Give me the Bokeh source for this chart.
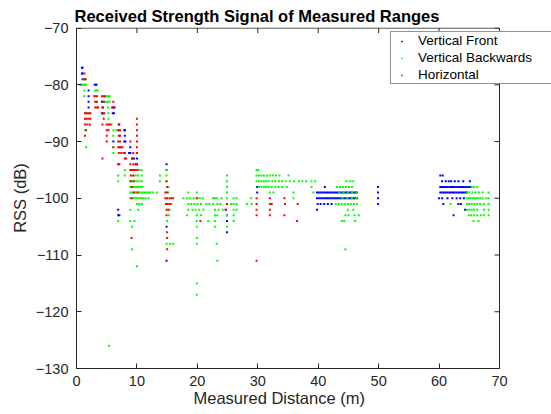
import numpy as np
from bokeh.plotting import figure
from bokeh.models import (Range1d, Title, Legend, LegendItem, FixedTicker,
                          ColumnDataSource)
from bokeh.embed import file_html
from bokeh.resources import INLINE

# RSS readings grouped by level (dB); each level lists the measured distances (m)
front_rss = [-77, -78, -79, -80, -81, -82, -83, -84, -85, -87, -88, -89, -90,
             -91, -92, -93, -94, -95, -96, -97, -98, -99, -100, -101, -102,
             -103, -104, -105, -106, -111]
front_dist = [
    [0.9, 1.0],
    [0.9, 1.0],
    [1.0],
    [3.0, 3.2, 3.3],
    [2.0],
    [2.0],
    [2.0, 4.2, 4.4],
    [2.0, 4.3, 6.0, 6.3],
    [4.2, 4.4, 6.0, 6.2],
    [7.0],
    [7.9, 8.0],
    [8.0],
    [6.1, 7.9, 8.1],
    [7.3, 8.9],
    [8.7, 8.9, 10.0],
    [9.2, 9.5, 10.0],
    [9.8, 10.0, 14.9],
    [14.9],
    [60.2, 60.6],
    [60.5, 61.1, 61.6, 62.0, 62.6, 63.2, 64.0, 65.1],
    [29.9, 41.1, 49.9, 60.2, 60.5, 60.8, 61.1, 61.4, 61.7, 62.0, 62.3, 62.6,
     62.9, 63.2, 63.5, 63.8, 64.1, 64.4, 64.7, 65.0, 65.2],
    [29.9, 39.8, 40.1, 40.4, 40.7, 41.0, 41.3, 41.6, 41.9, 42.2, 42.5, 42.8,
     43.1, 43.4, 43.7, 44.0, 44.3, 44.6, 44.9, 45.2, 45.5, 45.8, 46.1, 46.4,
     49.9, 60.2, 60.5, 60.8, 61.1, 61.4, 61.7, 62.0, 62.3, 62.6, 62.9, 63.2,
     63.5, 63.8, 64.1, 64.4, 64.6],
    [39.8, 40.1, 40.4, 40.7, 41.0, 41.3, 41.6, 41.9, 42.2, 42.5, 42.8, 43.1,
     43.4, 43.7, 44.0, 44.3, 44.6, 44.9, 45.2, 45.5, 45.8, 46.1, 46.4, 49.9,
     60.0, 60.5, 61.4, 62.2, 62.9, 63.5, 64.1],
    [39.9, 40.4, 41.0, 41.6, 42.2, 49.9, 60.7, 63.2, 63.6],
    [6.9, 24.7, 39.8, 64.3],
    [6.9, 7.1, 24.9, 62.4],
    [24.9],
    [14.9],
    [24.9],
    [14.9],
]

back_rss = [-79, -80, -81, -82, -83, -84, -85, -86, -87, -88, -89, -91, -92,
            -94, -95, -96, -97, -98, -99, -100, -101, -102, -103, -104, -105,
            -107, -108, -109, -111, -112, -115, -117, -126]
back_dist = [
    [1.2, 1.5],
    [0.6, 0.8, 1.0, 1.2, 1.4, 1.6],
    [1.3, 3.1, 3.3, 3.5],
    [1.3, 2.9, 3.2, 5.0, 5.3, 5.5],
    [3.3, 4.5, 5.0, 5.2, 5.5],
    [5.2],
    [1.6, 2.2, 4.4, 5.3],
    [5.3],
    [5.8],
    [1.4, 6.1, 6.6, 7.0],
    [6.1],
    [1.6, 6.1],
    [6.1],
    [6.9],
    [8.0, 10.4, 10.8, 14.9, 29.8, 30.1],
    [6.9, 8.0, 9.4, 9.8, 10.2, 10.8, 13.8, 14.9, 24.9, 29.8, 30.2, 30.6,
     31.0, 31.5, 32.0, 32.5, 33.0, 33.6, 35.1],
    [6.9, 8.9, 9.2, 9.6, 10.0, 10.4, 10.8, 13.8, 14.9, 24.9, 29.8, 30.2,
     30.6, 31.0, 31.4, 31.8, 32.4, 32.9, 33.5, 34.0, 34.6, 35.3, 36.0, 36.8,
     37.4, 38.0, 38.9, 39.5, 44.7, 45.3, 45.8],
    [8.9, 9.1, 9.4, 9.7, 10.0, 10.3, 10.6, 10.9, 15.2, 24.9, 30.2, 30.6,
     31.0, 31.4, 31.8, 32.3, 32.9, 33.4, 34.0, 34.8, 38.9, 43.1, 43.6, 44.1,
     44.6, 45.1, 45.6, 65.4, 65.8, 66.3],
    [8.9, 9.2, 9.5, 9.8, 10.1, 10.4, 10.7, 11.0, 11.3, 11.6, 11.9, 12.2,
     12.6, 13.3, 15.2, 18.5, 19.9, 24.9, 32.0, 32.6, 35.9, 39.2, 43.5, 44.2,
     44.9, 45.6, 46.3, 64.6, 65.0, 65.5, 66.0, 66.6, 67.2, 68.2],
    [8.9, 9.2, 9.5, 9.8, 10.1, 10.4, 10.7, 11.0, 11.4, 11.9, 17.7, 18.3,
     18.8, 19.4, 20.0, 20.4, 20.9, 22.6, 22.9, 23.3, 24.0, 24.9, 26.0, 26.5,
     28.9, 35.9, 44.0, 44.8, 45.6, 46.3, 64.6, 64.9, 65.2, 65.5, 65.8, 66.1,
     66.4, 66.8, 67.2, 67.8, 68.2],
    [10.0, 10.4, 10.8, 15.2, 15.7, 18.5, 19.0, 19.5, 20.0, 20.6, 21.5, 22.0,
     22.6, 23.3, 23.8, 25.6, 26.0, 26.5, 28.2, 29.0, 42.9, 43.4, 43.9, 44.4,
     44.9, 45.4, 45.9, 46.4, 61.9, 64.6, 65.0, 65.4, 65.8, 66.3, 66.8, 67.4,
     68.2],
    [8.9, 10.2, 15.4, 18.5, 19.2, 19.7, 20.3, 21.0, 22.9, 23.5, 24.2, 26.0,
     26.5, 44.9, 45.8, 64.6, 65.0, 65.4, 65.8, 66.3, 67.4, 68.2],
    [15.3, 18.3, 19.9, 20.6, 22.9, 23.3, 24.9, 26.0, 44.5, 45.0, 46.0, 46.7,
     64.9, 65.3, 65.8, 66.3, 66.9, 67.4, 68.2],
    [6.9, 8.9, 9.6, 15.0, 19.9, 21.8, 22.9, 26.0, 43.9, 44.3, 46.1, 65.7,
     66.5],
    [9.2, 19.9, 22.9, 24.9],
    [19.9],
    [14.9, 15.5, 16.0, 19.9, 23.2],
    [9.2, 44.5],
    [23.3],
    [10.0],
    [19.9],
    [19.9],
    [5.4],
]

horiz_rss = [-78, -79, -82, -83, -84, -85, -86, -87, -88, -89, -90, -91, -92,
             -93, -94, -95, -96, -97, -98, -99, -100, -101, -102, -103, -104,
             -106, -107, -109, -111]
horiz_dist = [
    [1.3],
    [1.3, 1.5],
    [3.0, 3.4, 4.2, 4.5, 4.7],
    [3.1, 3.4, 4.6, 6.1],
    [3.1, 3.4, 3.6, 4.4, 5.9, 6.1],
    [1.4, 1.7, 2.0, 2.3, 4.3, 4.6],
    [1.4, 1.7, 2.0, 2.3, 4.5, 10.0],
    [1.4, 1.8, 2.2, 4.3, 5.0, 5.3, 5.6, 7.1, 10.0],
    [1.6, 5.0, 5.3, 6.9, 7.2, 10.0],
    [1.4, 5.0, 7.0, 7.2, 10.0],
    [5.0, 6.9, 7.2, 8.9, 10.0],
    [6.1, 6.9, 7.2, 7.6, 10.0],
    [7.0, 7.4, 7.8, 8.0, 9.4, 10.0],
    [4.3, 8.0, 8.2, 9.2],
    [6.9, 7.1, 8.9, 9.4, 10.0],
    [8.9, 9.2, 9.5, 9.8, 10.1],
    [9.0, 9.4],
    [9.0, 9.5, 14.9],
    [9.2, 15.0],
    [9.5, 10.1, 14.7, 15.0],
    [9.1, 14.7, 15.0, 15.4, 15.7, 16.0, 19.9, 29.8, 32.0, 34.4],
    [14.8, 15.1, 15.5, 24.9, 29.8, 32.0, 32.3, 34.5, 36.6],
    [14.9, 15.2, 24.7, 29.8, 32.0],
    [14.9, 29.8, 32.0, 34.4],
    [20.5, 36.5],
    [15.0],
    [9.1, 15.0],
    [15.0],
    [29.8],
]

series_names = ["Vertical Front", "Vertical Backwards", "Horizontal"]
series_colors = ["#0000ff", "#00ff00", "#ff0000"]

x_ticks = [0, 10, 20, 30, 40, 50, 60, 70]
y_ticks = [-130, -120, -110, -100, -90, -80, -70]

AXIS_COLOR = "#262626"
FONT = "Liberation Sans"

# plot frame runs to the right edge so the legend can overhang the axes box
FRAME_LEFT, FRAME_TOP, FRAME_BOTTOM = 76, 27, 46
BOX_PX = 423                      # width of the 0..70 m axes box in pixels
FRAME_W = 551 - FRAME_LEFT
X_END = 70 * FRAME_W / BOX_PX


def flatten(levels, dists):
    xs, ys = [], []
    for level, row in zip(levels, dists):
        for d in row:
            xs.append(d)
            ys.append(level)
    return ColumnDataSource(data=dict(x=xs, y=ys))


p = figure(width=551, height=414, output_backend="svg", toolbar_location=None,
           x_range=Range1d(0, X_END), y_range=Range1d(-130, -69.9),
           min_border_left=FRAME_LEFT, min_border_right=0,
           min_border_top=FRAME_TOP, min_border_bottom=FRAME_BOTTOM,
           title="Received Strength Signal of Measured Ranges")
p.background_fill_color = "white"
p.border_fill_color = "white"
p.outline_line_color = None
p.xgrid.visible = False
p.ygrid.visible = False

p.title.align = "left"
p.title.offset = -2
p.title.standoff = 6
p.title.text_font = FONT
p.title.text_font_size = "16.5px"
p.title.text_font_style = "bold"
p.title.text_color = "black"


def style_axis(ax, ticks, bounds):
    ax.ticker = FixedTicker(ticks=ticks)
    ax.bounds = bounds
    ax.axis_line_color = AXIS_COLOR
    ax.major_tick_line_color = AXIS_COLOR
    ax.minor_tick_line_color = None
    ax.major_tick_in = 5
    ax.major_tick_out = 0
    ax.major_label_text_color = AXIS_COLOR
    ax.major_label_text_font = FONT
    ax.major_label_text_font_size = "14.5px"
    ax.axis_label_text_color = AXIS_COLOR
    ax.axis_label_text_font = FONT
    ax.axis_label_text_font_size = "16.5px"
    ax.axis_label_text_font_style = "normal"


style_axis(p.xaxis[0], x_ticks, (0, 70))
style_axis(p.yaxis[0], y_ticks, (-130, -70))
p.yaxis[0].axis_label = "RSS (dB)"
p.xaxis[0].major_label_standoff = 7
p.yaxis[0].major_label_standoff = 8
p.yaxis[0].axis_label_standoff = 4

# x-axis caption as a below-panel title so it sits under the 0..70 box
x_caption = Title(text="Measured Distance (m)", align="left", offset=117,
                  standoff=0, vertical_align="top", text_font=FONT,
                  text_font_size="16.5px", text_font_style="normal",
                  text_color=AXIS_COLOR)
p.add_layout(x_caption, "below")

# top and right edges of the axes box with inward ticks
p.segment(x0=[0, 70], y0=[-70, -130], x1=[70, 70], y1=[-70, -70],
          line_color=AXIS_COLOR, line_width=1)
p.ray(x=x_ticks, y=[-70] * len(x_ticks), length=5, length_units="screen",
      angle=-np.pi / 2, line_color=AXIS_COLOR, line_width=1)
p.ray(x=[70] * len(y_ticks), y=y_ticks, length=5, length_units="screen",
      angle=np.pi, line_color=AXIS_COLOR, line_width=1)

renderers = []
for levels, dists, color in [(front_rss, front_dist, series_colors[0]),
                             (back_rss, back_dist, series_colors[1]),
                             (horiz_rss, horiz_dist, series_colors[2])]:
    r = p.scatter("x", "y", source=flatten(levels, dists), marker="square",
                  size=2.0, fill_color=color, line_color=None)
    renderers.append(r)

legend = Legend(items=[LegendItem(label=n, renderers=[r])
                       for n, r in zip(series_names, renderers)],
                location=(314, 284), orientation="vertical")
legend.border_line_color = AXIS_COLOR
legend.border_line_width = 1
legend.background_fill_color = "white"
legend.background_fill_alpha = 1
legend.label_text_font = FONT
legend.label_text_font_size = "13.5px"
legend.label_text_color = "black"
legend.padding = 0
legend.margin = 0
legend.spacing = 0
legend.glyph_width = 21
legend.glyph_height = 4          # keeps the legend marker a small dot
legend.label_height = 17
legend.label_width = 133
legend.label_standoff = 6
p.add_layout(legend)

open("out.html", "w").write(file_html(p, INLINE))
